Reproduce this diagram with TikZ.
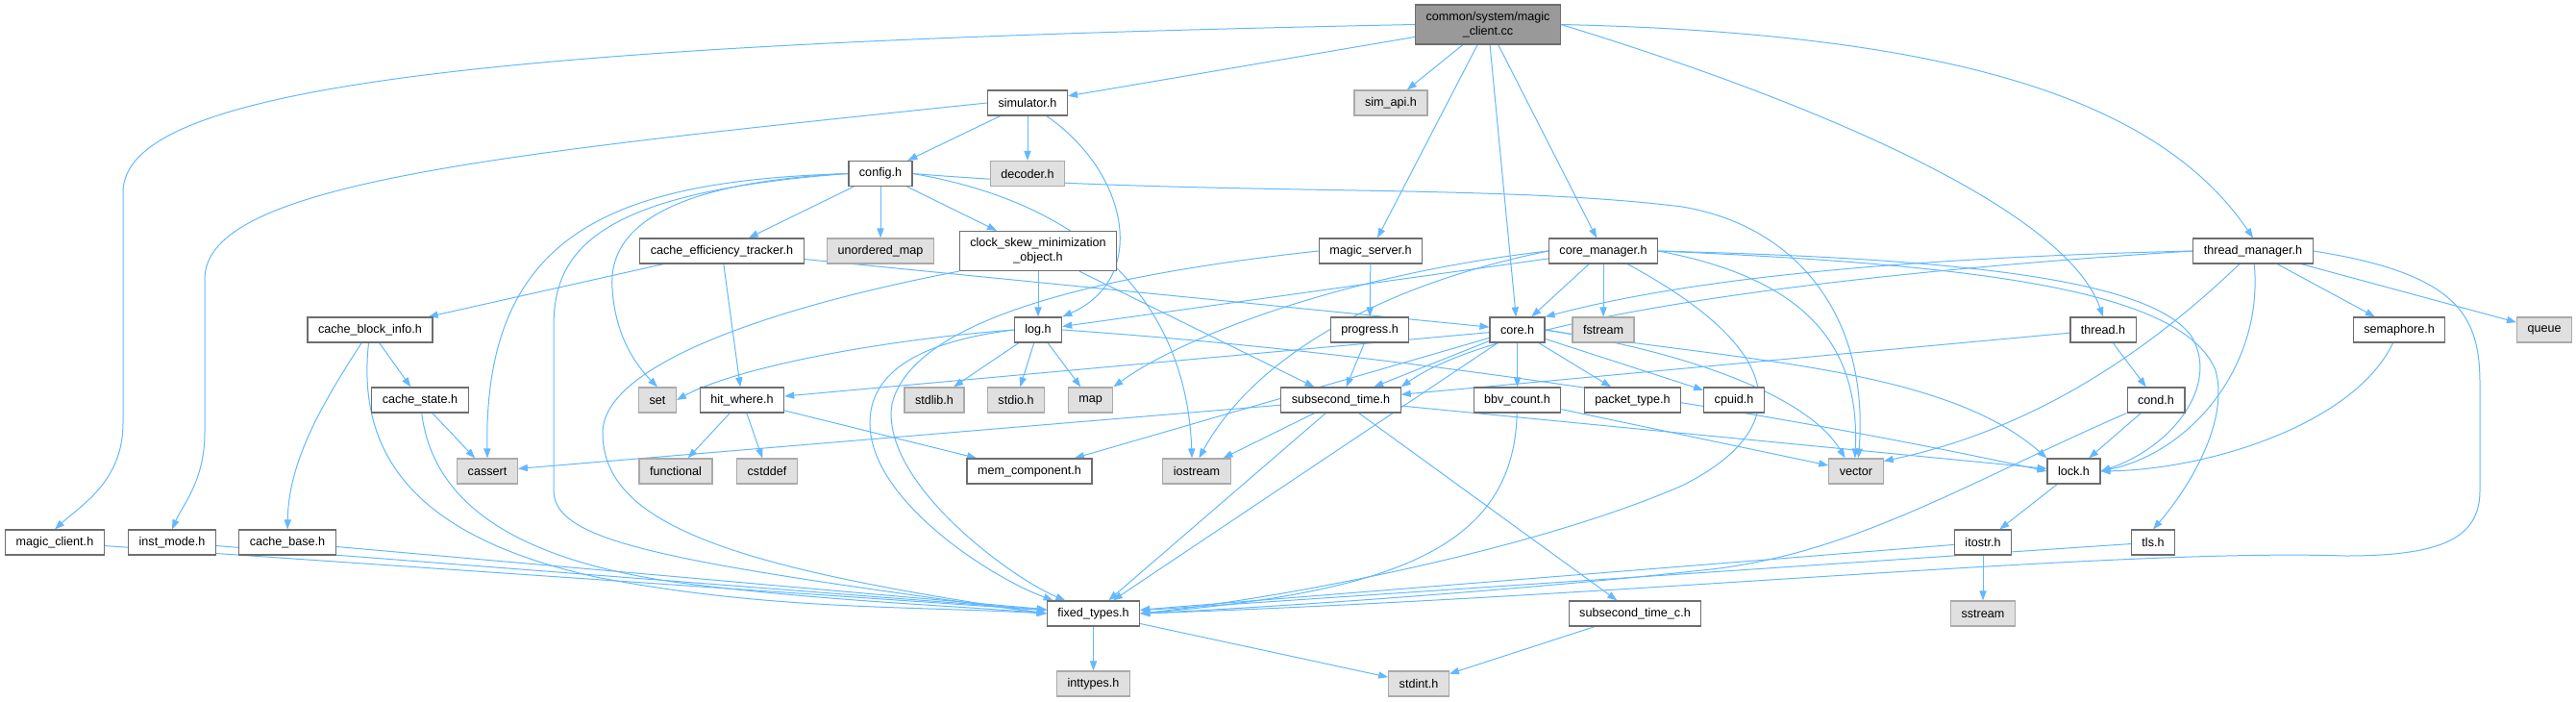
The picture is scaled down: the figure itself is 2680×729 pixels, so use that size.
\documentclass[tikz,border=0pt]{standalone}
\usepackage{fontspec}
\newfontfamily\dotfont{Liberation Sans}
\usetikzlibrary{arrows.meta}
\pgfdeclarelayer{bg}
\pgfsetlayers{bg,main}
\definecolor{edgeblue}{RGB}{99,184,255}
\definecolor{boxgray}{RGB}{110,110,110}
\definecolor{sysfill}{RGB}{224,224,224}
\definecolor{sysline}{RGB}{170,170,170}
\definecolor{rootfill}{RGB}{153,153,153}
\tikzset{
  hdr/.style={draw=boxgray, fill=white, line width=0.6pt, inner xsep=5.5pt, inner ysep=0pt,
    minimum height=13pt, align=center, font=\dotfont\fontsize{6.3}{7.5}\selectfont},
  syshdr/.style={hdr, draw=sysline, fill=sysfill},
  rootfile/.style={hdr, fill=rootfill, minimum height=20.5pt},
  twoline/.style={minimum height=20.5pt},
  incl/.style={draw=edgeblue, line width=0.5pt, -{Triangle[length=5pt,width=3.6pt]}}
}

\begin{document}
\begin{tikzpicture}[x=0.5pt,y=-0.5pt]
\useasboundingbox (0,0) rectangle (2680,729);
\node[rootfile] (mcc) at (1548,25.5) {common/system/magic\\\_client.cc};
\node[hdr] (sim) at (1069,107) {simulator.h};
\node[syshdr] (simapi) at (1447,107) {sim\_api.h};
\node[hdr] (cfg) at (916,180.5) {config.h};
\node[syshdr] (dec) at (1069,180.5) {decoder.h};
\node[hdr] (cet) at (751,261) {cache\_efficiency\_tracker.h};
\node[syshdr] (umap) at (916,261) {unordered\_map};
\node[hdr, twoline] (csk) at (1080,261) {clock\_skew\_minimization\\\_object.h};
\node[hdr] (msrv) at (1426,261) {magic\_server.h};
\node[hdr] (cmgr) at (1668,261) {core\_manager.h};
\node[hdr] (tmgr) at (2344,261) {thread\_manager.h};
\node[hdr] (cbi) at (385,343) {cache\_block\_info.h};
\node[hdr] (log) at (1080,343) {log.h};
\node[hdr] (prog) at (1425,343) {progress.h};
\node[hdr] (core) at (1578.5,343) {core.h};
\node[syshdr] (fstream) at (1668,343) {fstream};
\node[hdr] (thr) at (2188,343) {thread.h};
\node[hdr] (sema) at (2496,343) {semaphore.h};
\node[syshdr] (queue) at (2647,343) {queue};
\node[hdr] (cstate) at (437,416) {cache\_state.h};
\node[syshdr] (set) at (684,416) {set};
\node[hdr] (hitw) at (772,416) {hit\_where.h};
\node[syshdr] (stdlib) at (972,416) {stdlib.h};
\node[syshdr] (stdio) at (1057,416) {stdio.h};
\node[syshdr] (map) at (1134.5,416) {map};
\node[hdr] (subt) at (1395,416) {subsecond\_time.h};
\node[hdr] (bbv) at (1578.5,416) {bbv\_count.h};
\node[hdr] (ptype) at (1698.5,416) {packet\_type.h};
\node[hdr] (cpuid) at (1804,416) {cpuid.h};
\node[hdr] (cond) at (2243,416) {cond.h};
\node[syshdr] (cassert) at (507,490) {cassert};
\node[syshdr] (func) at (703,490) {functional};
\node[syshdr] (cstddef) at (798,490) {cstddef};
\node[hdr] (memc) at (1071,490) {mem\_component.h};
\node[syshdr] (iostream) at (1245,490) {iostream};
\node[syshdr] (vector) at (1931,490) {vector};
\node[hdr] (lock) at (2157.5,490) {lock.h};
\node[hdr] (mch) at (57,564) {magic\_client.h};
\node[hdr] (inst) at (179,564) {inst\_mode.h};
\node[hdr] (cbase) at (299,564) {cache\_base.h};
\node[hdr] (itostr) at (2063,564) {itostr.h};
\node[hdr] (tls) at (2240,564) {tls.h};
\node[hdr] (fixed) at (1137.5,638) {fixed\_types.h};
\node[hdr] (subtc) at (1701,638) {subsecond\_time\_c.h};
\node[syshdr] (sstream) at (2063,638) {sstream};
\node[syshdr] (inttypes) at (1137.5,711) {inttypes.h};
\node[syshdr] (stdint) at (1476,711) {stdint.h};

\begin{pgfonlayer}{bg}
\draw[incl] (mcc.west) .. controls (500,45) and (128,90) .. (128,200) -- (128,440) .. controls (128,500) and (85,525) .. (mch.north);
\draw[incl] (mcc) -- (sim);
\draw[incl] (mcc) -- (simapi);
\draw[incl] (mcc) -- (msrv);
\draw[incl] (mcc) -- (core);
\draw[incl] (mcc) -- (cmgr);
\draw[incl] (mcc.east) .. controls (1900,110) and (2150,220) .. (thr.north);
\draw[incl] (mcc.east) .. controls (2050,35) and (2250,110) .. (tmgr.north);

\draw[incl] (sim.west) .. controls (520,160) and (213,190) .. (213,290) -- (213,450) .. controls (213,500) and (190,525) .. (inst.north);
\draw[incl] (sim) -- (cfg);
\draw[incl] (sim) -- (dec);
\draw[incl] (sim) .. controls (1175,180) and (1195,290) .. (log.north east);

\draw[incl] (cfg) -- (cet);
\draw[incl] (cfg) -- (umap);
\draw[incl] (cfg) -- (csk);
\draw[incl] (cfg.west) .. controls (640,188) and (503,240) .. (cassert.north);
\draw[incl] (cfg.west) .. controls (620,200) and (576,260) .. (576,340) -- (576,510) .. controls (576,565) and (700,585) .. (fixed.west);
\draw[incl] (cfg.west) .. controls (690,190) and (632,240) .. (637,300) .. controls (640,350) and (662,380) .. (set.north);
\draw[incl] (cfg.east) .. controls (1150,215) and (1235,330) .. (iostream.110);
\draw[incl] (cfg.east) .. controls (1250,205) and (1550,190) .. (1750,215) .. controls (1870,235) and (1945,330) .. (vector.80);

\draw[incl] (cet) -- (cbi);
\draw[incl] (cet) -- (hitw);
\draw[incl] (cet) -- (core);

\draw[incl] (cbi) -- (cstate);
\draw[incl] (cbi) .. controls (335,420) and (300,480) .. (cbase);
\draw[incl] (cbi) .. controls (370,480) and (440,560) .. (620,600) .. controls (800,635) and (950,630) .. (fixed.west);

\draw[incl] (cstate) -- (cassert);
\draw[incl] (cstate) .. controls (450,520) and (530,580) .. (700,605) .. controls (850,625) and (1000,630) .. (fixed.west);

\draw[incl] (hitw) -- (func);
\draw[incl] (hitw) -- (cstddef);
\draw[incl] (hitw) -- (memc);

\draw[incl] (csk) -- (log);
\draw[incl] (csk) -- (subt);
\draw[incl] (csk.south west) .. controls (800,320) and (627,380) .. (627,450) .. controls (627,545) and (760,590) .. (fixed.west);

\draw[incl] (log) -- (stdlib);
\draw[incl] (log) -- (stdio);
\draw[incl] (log) -- (map);
\draw[incl] (log.west) .. controls (900,355) and (760,385) .. (set.east);
\draw[incl] (log.west) .. controls (960,355) and (905,385) .. (905,440) .. controls (905,520) and (1030,600) .. (fixed.162);
\draw[incl] (log.east) .. controls (1500,370) and (1900,440) .. (lock.west);

\draw[incl] (msrv) -- (prog);
\draw[incl] (msrv.west) .. controls (1150,285) and (950,330) .. (928,420) .. controls (915,500) and (1050,600) .. (fixed.155);
\draw[incl] (prog) -- (subt);

\draw[incl] (subt) -- (iostream);
\draw[incl] (subt) -- (fixed);
\draw[incl] (subt) -- (subtc);
\draw[incl] (subt) -- (cassert);
\draw[incl] (subt) -- (lock);

\draw[incl] (core) -- (subt);
\draw[incl] (core) -- (bbv);
\draw[incl] (core) -- (ptype);
\draw[incl] (core) -- (cpuid);
\draw[incl] (core.east) .. controls (1750,365) and (1880,410) .. (vector.130);
\draw[incl] (core.east) .. controls (1800,375) and (2020,380) .. (lock.north west);
\draw[incl] (core) -- (fixed);
\draw[incl] (core) -- (memc);
\draw[incl] (core) -- (hitw);

\draw[incl] (cmgr) -- (core);
\draw[incl] (cmgr) -- (fstream);
\draw[incl] (cmgr) -- (log);
\draw[incl] (cmgr.west) .. controls (1400,285) and (1230,350) .. (map.north east);
\draw[incl] (cmgr.west) .. controls (1420,300) and (1300,380) .. (iostream.80);
\draw[incl] (cmgr.east) .. controls (1880,290) and (1935,360) .. (vector.95);
\draw[incl] (cmgr.east) .. controls (2000,268) and (2235,285) .. (2280,350) .. controls (2310,400) and (2260,465) .. (lock.east);
\draw[incl] (cmgr.east) .. controls (2050,275) and (2270,300) .. (2305,385) .. controls (2320,440) and (2275,510) .. (tls.north);
\draw[incl] (cmgr) .. controls (1870,370) and (1860,450) .. (1750,505) .. controls (1600,570) and (1350,620) .. (fixed.east);

\draw[incl] (tmgr) -- (sema);
\draw[incl] (tmgr) -- (queue);
\draw[incl] (tmgr) .. controls (2355,380) and (2280,470) .. (lock.east);
\draw[incl] (tmgr) .. controls (2220,380) and (2100,450) .. (vector.20);
\draw[incl] (tmgr.west) .. controls (1900,270) and (1720,300) .. (core.north east);
\draw[incl] (tmgr.west) .. controls (1900,285) and (1560,330) .. (subt.north east);
\draw[incl] (tmgr.east) .. controls (2560,285) and (2580,330) .. (2580,400) -- (2580,510) .. controls (2580,560) and (2540,578) .. (2440,578) .. controls (2200,570) and (1700,620) .. (fixed.east);

\draw[incl] (thr) -- (cond);
\draw[incl] (thr) -- (subt);
\draw[incl] (cond) -- (lock);
\draw[incl] (cond.south west) .. controls (2050,500) and (1930,575) .. (1780,592) .. controls (1600,612) and (1350,630) .. (fixed.east);
\draw[incl] (sema) .. controls (2450,440) and (2300,488) .. (lock.east);

\draw[incl] (lock) -- (itostr);
\draw[incl] (itostr) -- (sstream);
\draw[incl] (itostr) -- (fixed);
\draw[incl] (tls) -- (fixed);
\draw[incl] (bbv) -- (vector);
\draw[incl] (bbv) .. controls (1575,570) and (1450,615) .. (fixed.east);
\draw[incl] (subtc) -- (stdint);
\draw[incl] (fixed) -- (inttypes);
\draw[incl] (fixed) -- (stdint);
\draw[incl] (mch) -- (fixed);
\draw[incl] (inst) -- (fixed);
\draw[incl] (cbase) -- (fixed);
\end{pgfonlayer}
\end{tikzpicture}
\end{document}
